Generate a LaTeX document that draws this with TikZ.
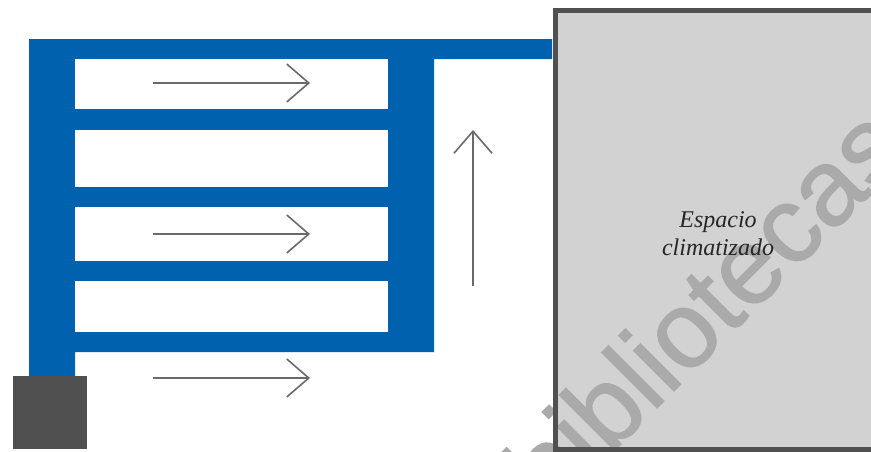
\documentclass[tikz,border=0pt]{standalone}
\usepackage{fontspec}
\setmainfont{Liberation Serif}
\newfontfamily\wmfont[FakeBold=1.2]{Liberation Sans}
\usetikzlibrary{arrows.meta}
\definecolor{duct}{HTML}{0061AE}
\definecolor{unitgray}{HTML}{505050}
\definecolor{roomfill}{HTML}{D2D2D2}
\definecolor{wm}{HTML}{AAAAAA}
\definecolor{flow}{HTML}{6A6A6A}
\tikzset{
  slotbox/.style={fill=white,draw=none,minimum width=313pt,inner sep=0pt,anchor=north west},
  flowarrow/.style={draw=flow,line width=1.3pt,-{Straight Barb[length=22pt,width=38pt,line width=1.6pt]}},
}
\begin{document}
\begin{tikzpicture}[x=1pt,y=-1pt]
\useasboundingbox (0,0) rectangle (871,451);
\clip (0,0) rectangle (871,451);
\fill[white] (0,0) rectangle (871,451);
% ducts
\fill[duct] (29,39) -| (552,59) -| (434,352) -| (75,376) -| (29,39) -- cycle;
\node[slotbox,minimum height=50pt] (s1) at (75,59) {};
\node[slotbox,minimum height=57pt] (s2) at (75,130) {};
\node[slotbox,minimum height=54pt] (s3) at (75,207) {};
\node[slotbox,minimum height=51pt] (s4) at (75,281) {};
% unit
\fill[unitgray] (13,376) rectangle (87,449);
% room
\fill[roomfill] (555,10.5) rectangle (875,449);
% watermark
\node[font=\wmfont,rotate=45,anchor=base west,inner sep=0pt,text=wm] (w) at (550,515) {\fontsize{108}{108}\selectfont bibliotecas};
\draw[unitgray,line width=5pt] (875,10.5) -- (555,10.5) -- (555,449) -- (875,449);
% flows
\coordinate (a1) at (153,83); \coordinate (b1) at (310,83);
\coordinate (a2) at (153,234); \coordinate (b2) at (310,234);
\coordinate (a3) at (153,378); \coordinate (b3) at (310,378);
\coordinate (a4) at (473,286); \coordinate (b4) at (473,130);
\draw[flowarrow] (a1) -- (b1);
\draw[flowarrow] (a2) -- (b2);
\draw[flowarrow] (a3) -- (b3);
\draw[flowarrow] (a4) -- (b4);
\node[align=center,font=\itshape\fontsize{24}{28}\selectfont,text=black!85] (room) at (718,234) {Espacio\\climatizado};
\end{tikzpicture}
\end{document}
